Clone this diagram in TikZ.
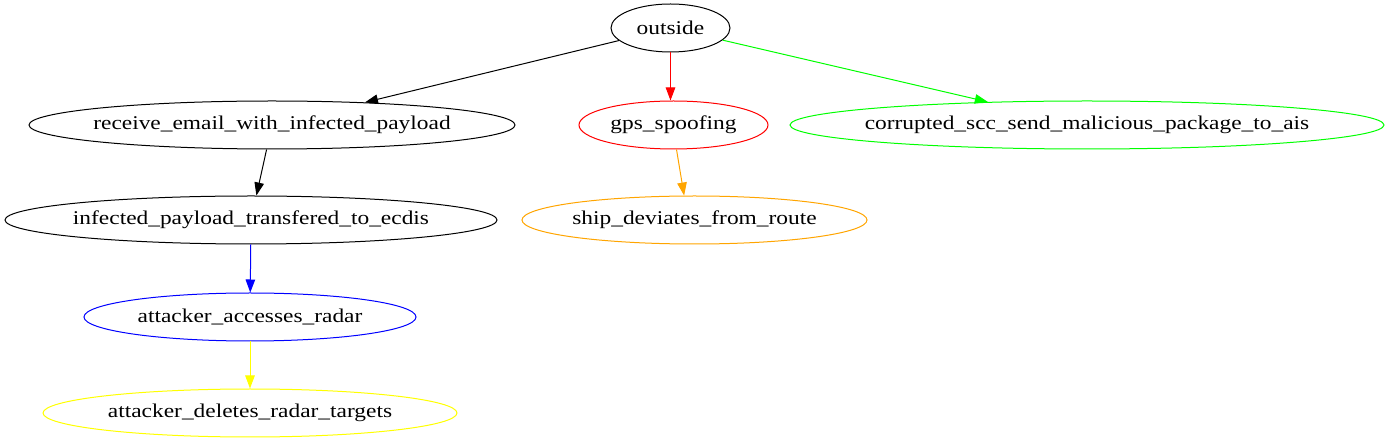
\documentclass[tikz,border=0pt]{standalone}
\usepackage{fontspec}
\setmainfont[FakeStretch=1.2]{Liberation Serif}
\usetikzlibrary{shapes.geometric,arrows.meta}
\definecolor{gvgreen}{HTML}{00FF00}
\definecolor{gvred}{HTML}{FF0000}
\definecolor{gvblue}{HTML}{0000FF}
\definecolor{gvyellow}{HTML}{FFFF00}
\definecolor{gvorange}{HTML}{FFA500}
\tikzset{
  gvnode/.style={ellipse, draw, line width=1pt, inner sep=0pt, minimum height=48pt, font=\fontsize{19.5}{23}\selectfont},
  gvedge/.style={line width=1pt, -{Triangle[length=13pt,width=9.5pt]}},
}
\newcommand{\lbl}[1]{\makebox[0pt]{#1}}
\begin{document}
\begin{tikzpicture}[x=1pt,y=-1pt]
\useasboundingbox[fill=white] (0,0) rectangle (1390,443);
\node[gvnode, minimum width=119pt] (outside) at (670.5,28) {\lbl{outside}};
\node[gvnode, minimum width=486pt] (receive) at (272,125) {\lbl{receive\_email\_with\_infected\_payload}};
\node[gvnode, draw=gvred, minimum width=189pt] (gps) at (673.5,125) {\lbl{gps\_spoofing}};
\node[gvnode, draw=gvgreen, minimum width=594pt] (corrupted) at (1087,125) {\lbl{corrupted\_scc\_send\_malicious\_package\_to\_ais}};
\node[gvnode, minimum width=492pt] (infected) at (251,220) {\lbl{infected\_payload\_transfered\_to\_ecdis}};
\node[gvnode, draw=gvorange, minimum width=345pt] (ship) at (694.5,220) {\lbl{ship\_deviates\_from\_route}};
\node[gvnode, draw=gvblue, minimum width=332pt] (radar) at (250,317) {\lbl{attacker\_accesses\_radar}};
\node[gvnode, draw=gvyellow, minimum width=414pt] (deletes) at (250,413) {\lbl{attacker\_deletes\_radar\_targets}};
\draw[gvedge] (outside) -- (receive);
\draw[gvedge, gvred] (outside.south) -- (outside.south |- gps.north);
\draw[gvedge, gvgreen] (outside) -- (corrupted);
\draw[gvedge] (receive) -- (infected);
\draw[gvedge, gvorange] (gps.-83) -- (ship.113);
\draw[gvedge, gvblue] (infected) -- (radar);
\draw[gvedge, gvyellow] (radar) -- (deletes);
\end{tikzpicture}
\end{document}
